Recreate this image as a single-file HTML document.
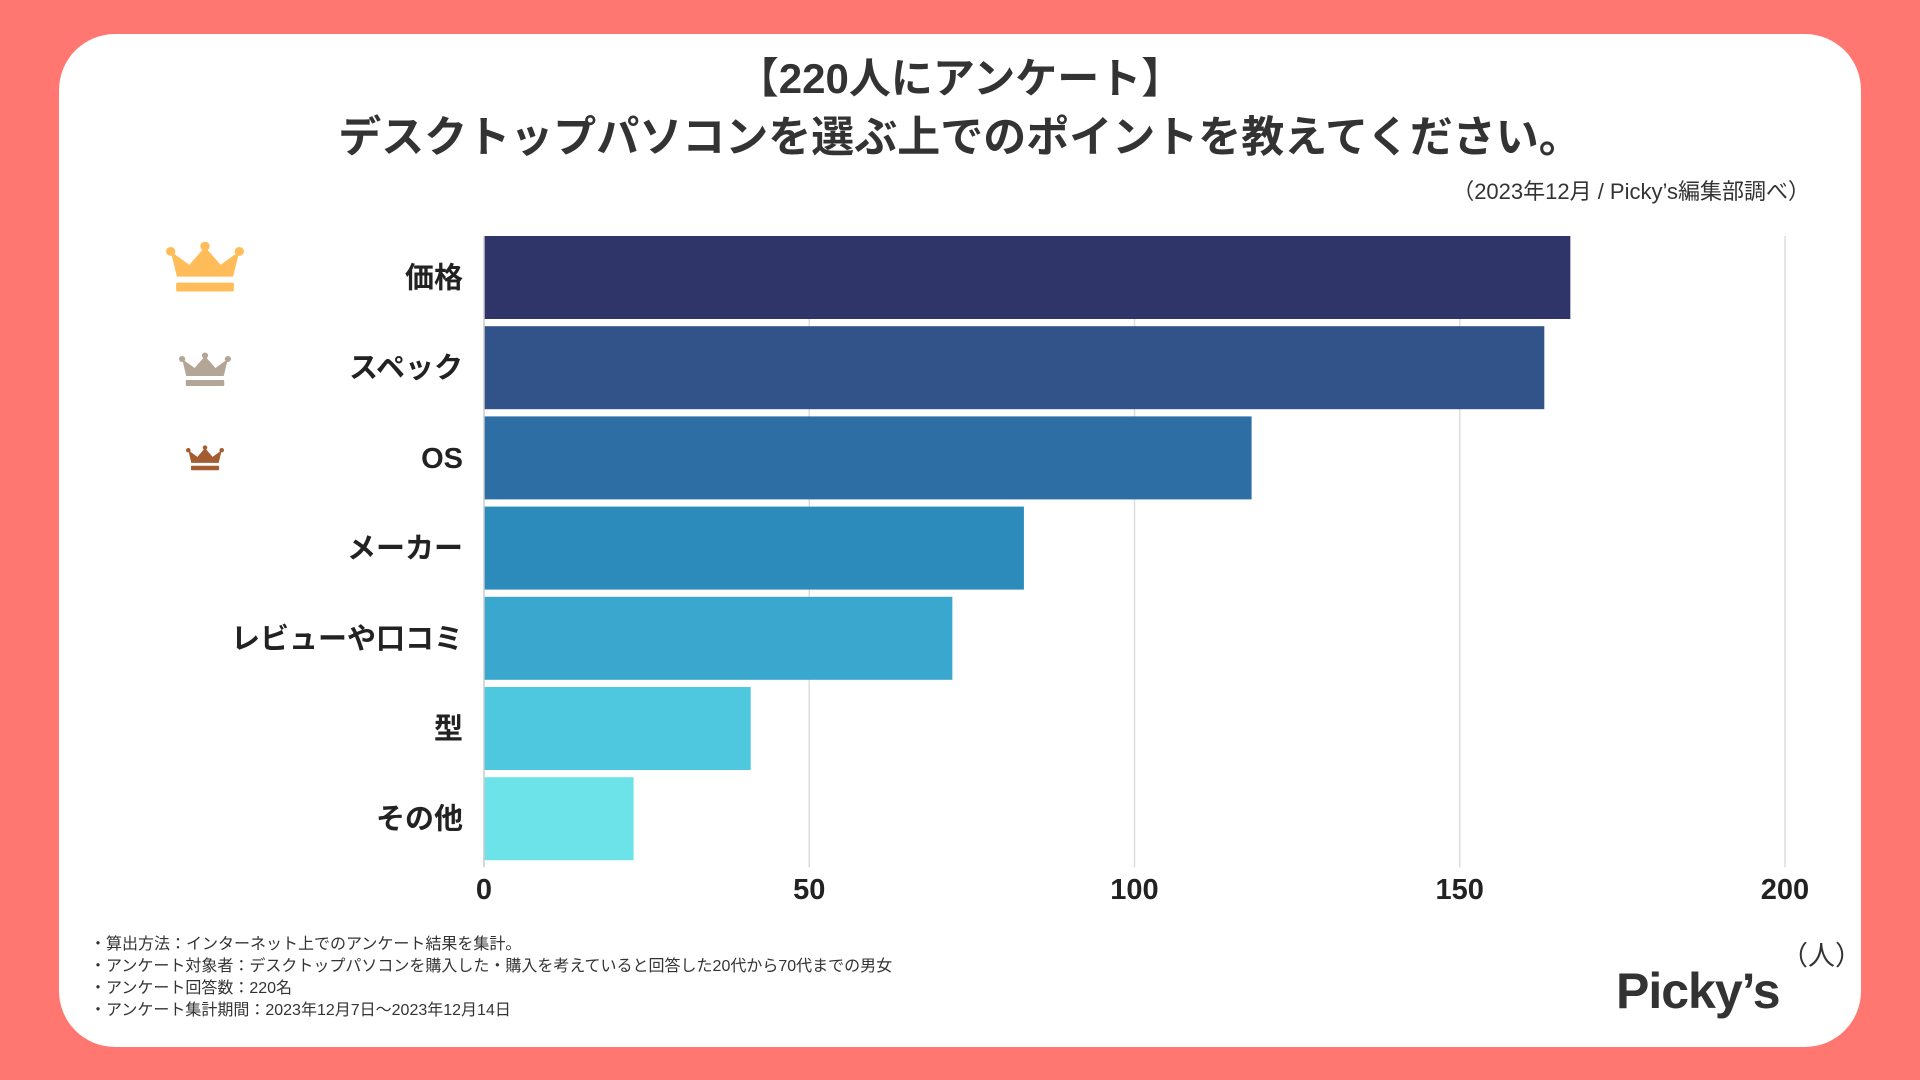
<!DOCTYPE html>
<html><head><meta charset="utf-8"><style>
html,body{margin:0;padding:0;width:1920px;height:1080px;overflow:hidden;background:#FF7770;font-family:"Liberation Sans","Noto Sans CJK JP",sans-serif;}
#card{position:absolute;left:59px;top:34px;width:1802px;height:1013px;background:#fff;border-radius:56px;}
.t{position:absolute;white-space:nowrap;color:#333;}
</style></head><body>
<div id="card"></div>
<div class="t" style="left:0;width:1920px;text-align:center;top:45px;font-size:42px;font-weight:bold;">【220人にアンケート】</div>
<div class="t" style="left:0;width:1920px;text-align:center;top:103px;font-size:43px;font-weight:bold;">デスクトップパソコンを選ぶ上でのポイントを教えてください。</div>
<div class="t" style="right:110px;top:174px;font-size:22px;">（2023年12月 / Picky’s編集部調べ）</div>
<svg id="chart" width="1920" height="1080" style="position:absolute;left:0;top:0"></svg>
<div class="t" style="left:90px;top:934px;font-size:16px;line-height:22px;">・算出方法：インターネット上でのアンケート結果を集計。<br>・アンケート対象者：デスクトップパソコンを購入した・購入を考えていると回答した20代から70代までの男女<br>・アンケート回答数：220名<br>・アンケート集計期間：2023年12月7日〜2023年12月14日</div>
<div class="t" style="left:1781px;top:934px;font-size:27px;">（人）</div>
<div class="t" style="left:1616px;top:962px;font-size:50px;font-weight:bold;color:#333;letter-spacing:-1px;">Picky’s</div>
<script>
const categories=["価格","スペック","OS","メーカー","レビューや口コミ","型","その他"];
const values=[167,163,118,83,72,41,23];
const ticks=[0,50,100,150,200];
const colors=["#2F3469","#32538A","#2D6EA4","#2D8BBB","#3AA7CE","#4EC8DE","#6BE3E8"];
const svg=document.getElementById('chart');const NS="http://www.w3.org/2000/svg";
const x0=484,x1=1785,yTop=236,rowH=90.2,barH=83;
const xs=v=>x0+(v-0)/(200-0)*(x1-x0);
function mk(tag,attrs){const e=document.createElementNS(NS,tag);for(const k in attrs)e.setAttribute(k,attrs[k]);svg.appendChild(e);return e;}
ticks.forEach(t=>{
 if(t>0){const g=mk('line',{x1:xs(t),x2:xs(t),y1:yTop,y2:yTop+rowH*7,stroke:'#ddd','stroke-width':1.5});
 
 }
 const l=mk('text',{x:xs(t),y:899,'text-anchor':'middle','font-size':29,'font-weight':'bold',fill:'#222','font-family':'"Liberation Sans","Noto Sans CJK JP",sans-serif'});
 l.textContent=t;
 
 
});
categories.forEach((c,i)=>{
 const y=yTop+i*rowH;
 const r=mk('rect',{x:x0,y:y,width:xs(values[i])-x0,height:barH,fill:colors[i]});
 
 
 const t=mk('text',{x:463,y:y+barH/2+10,'text-anchor':'end','font-size':29,'font-weight':'bold',fill:'#222','font-family':'"Liberation Sans","Noto Sans CJK JP",sans-serif'});
 t.textContent=c;
 
 
});
mk('line',{x1:x0,x2:x0,y1:yTop,y2:yTop+rowH*7,stroke:'#ccc','stroke-width':1.5});
function crown(x,y,w,h,col,name){
 const g=document.createElementNS(NS,'g');
 g.setAttribute('transform',`translate(${x},${y}) scale(${w/100},${h/70})`);
 
 
 g.innerHTML=`<path d="M6,14 L30,32 L50,8 L70,32 L94,14 L86,48 L14,48 Z" fill="${col}"/><circle cx="6" cy="14" r="6" fill="${col}"/><circle cx="50" cy="7" r="6" fill="${col}"/><circle cx="94" cy="14" r="6" fill="${col}"/><rect x="13" y="56" width="74" height="12" rx="2" fill="${col}"/>`;
 svg.appendChild(g);
}
crown(166,241,78,52,'#FFBC58','crown-gold');
crown(179,352,52,35,'#B3A696','crown-silver');
crown(186,445,38,26,'#A35D31','crown-bronze');
</script>
</body></html>
